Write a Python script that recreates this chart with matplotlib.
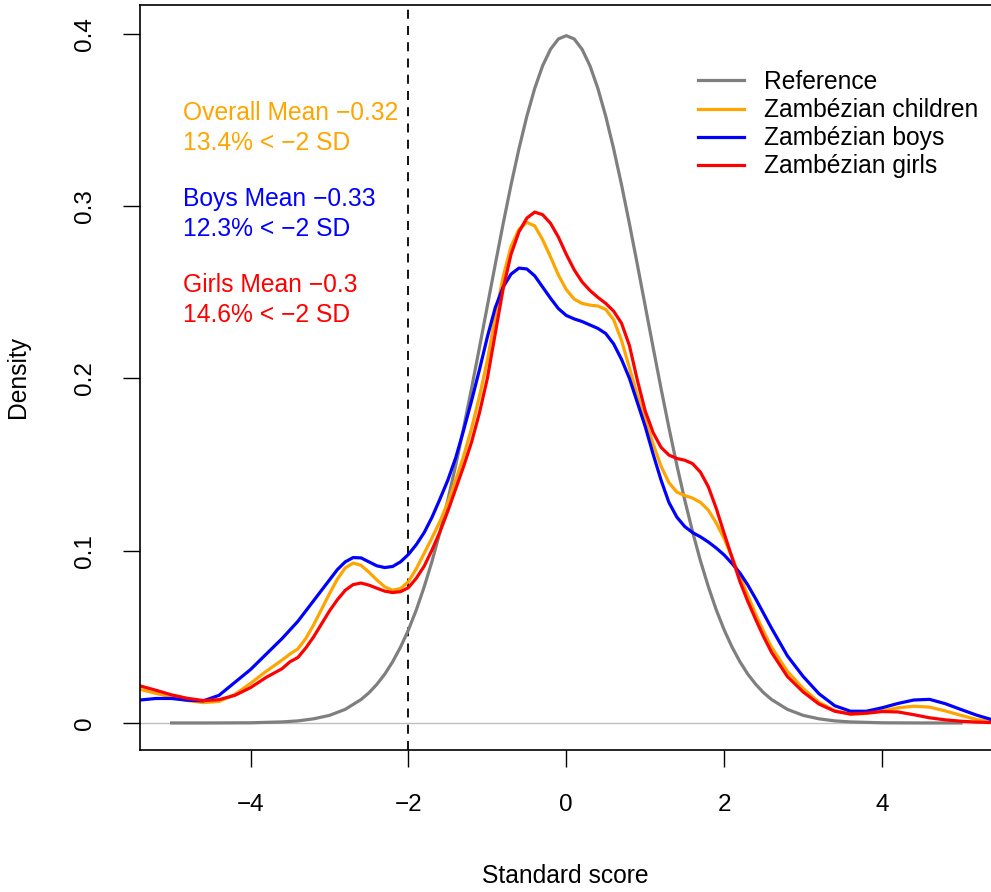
import numpy as np
import matplotlib
matplotlib.use("Agg")
import matplotlib.pyplot as plt

plt.rcParams['font.family'] = ['Liberation Sans', 'DejaVu Sans']

# curva de referencia (normal padrao)
x_ref = [-5.0, -4.5, -4.0, -3.6, -3.4, -3.2, -3.0, -2.8, -2.6, -2.5, -2.4,
         -2.3, -2.2, -2.1, -2.0, -1.9, -1.8, -1.7, -1.6, -1.5, -1.4, -1.3,
         -1.2, -1.1, -1.0, -0.9, -0.8, -0.7, -0.6, -0.5, -0.4, -0.3, -0.2,
         -0.1, 0.0, 0.1, 0.2, 0.3, 0.4, 0.5, 0.6, 0.7, 0.8, 0.9, 1.0, 1.1,
         1.2, 1.3, 1.4, 1.5, 1.6, 1.7, 1.8, 1.9, 2.0, 2.1, 2.2, 2.3, 2.4,
         2.5, 2.6, 2.8, 3.0, 3.2, 3.4, 3.6, 4.0, 4.5, 5.0]
y_ref = [0.0000, 0.0000, 0.0001, 0.0006, 0.0012, 0.0024, 0.0044, 0.0079,
         0.0136, 0.0175, 0.0224, 0.0283, 0.0355, 0.0440, 0.0540, 0.0656,
         0.0790, 0.0940, 0.1109, 0.1295, 0.1497, 0.1714, 0.1942, 0.2179,
         0.2420, 0.2661, 0.2897, 0.3123, 0.3332, 0.3521, 0.3683, 0.3814,
         0.3910, 0.3970, 0.3989, 0.3970, 0.3910, 0.3814, 0.3683, 0.3521,
         0.3332, 0.3123, 0.2897, 0.2661, 0.2420, 0.2179, 0.1942, 0.1714,
         0.1497, 0.1295, 0.1109, 0.0940, 0.0790, 0.0656, 0.0540, 0.0440,
         0.0355, 0.0283, 0.0224, 0.0175, 0.0136, 0.0079, 0.0044, 0.0024,
         0.0012, 0.0006, 0.0001, 0.0000, 0.0000]

# grade das densidades das criancas
x_dens = [-5.4, -5.2, -5.0, -4.8, -4.6, -4.4, -4.2, -4.0, -3.8, -3.6,
          -3.5, -3.4, -3.3, -3.2, -3.1, -3.0, -2.9, -2.8, -2.7, -2.6,
          -2.5, -2.4, -2.3, -2.2, -2.1, -2.0, -1.9, -1.8, -1.7, -1.6,
          -1.5, -1.4, -1.3, -1.2, -1.1, -1.0, -0.9, -0.8, -0.7, -0.6,
          -0.5, -0.4, -0.3, -0.2, -0.1, 0.0, 0.1, 0.2, 0.3, 0.4,
          0.5, 0.6, 0.7, 0.8, 0.9, 1.0, 1.1, 1.2, 1.3, 1.4,
          1.5, 1.6, 1.7, 1.8, 1.9, 2.0, 2.1, 2.2, 2.3, 2.4,
          2.5, 2.6, 2.8, 3.0, 3.2, 3.4, 3.6, 3.8, 4.0, 4.2,
          4.4, 4.6, 4.8, 5.0, 5.2, 5.4]

y_children = [0.0195, 0.0172, 0.0150, 0.0130, 0.0118, 0.0125, 0.0165, 0.0230, 0.0300, 0.0365,
              0.0400, 0.0430, 0.0490, 0.0570, 0.0660, 0.0750, 0.0835, 0.0900, 0.0928, 0.0915,
              0.0875, 0.0830, 0.0790, 0.0770, 0.0780, 0.0820, 0.0895, 0.0985, 0.1075, 0.1170,
              0.1280, 0.1410, 0.1550, 0.1710, 0.1895, 0.2105, 0.2360, 0.2590, 0.2765, 0.2865,
              0.2905, 0.2885, 0.2805, 0.2705, 0.2600, 0.2515, 0.2460, 0.2435, 0.2425, 0.2420,
              0.2400, 0.2340, 0.2220, 0.2060, 0.1900, 0.1760, 0.1620, 0.1490, 0.1395, 0.1340,
              0.1320, 0.1305, 0.1280, 0.1235, 0.1160, 0.1070, 0.0960, 0.0850, 0.0740, 0.0630,
              0.0530, 0.0440, 0.0300, 0.0200, 0.0120, 0.0072, 0.0050, 0.0055, 0.0070, 0.0088,
              0.0097, 0.0092, 0.0070, 0.0044, 0.0020, 0.0007]

y_boys = [0.0133, 0.0142, 0.0142, 0.0132, 0.0128, 0.0160, 0.0235, 0.0310, 0.0400, 0.0490,
          0.0540, 0.0590, 0.0650, 0.0710, 0.0770, 0.0830, 0.0890, 0.0935, 0.0960, 0.0958,
          0.0935, 0.0912, 0.0902, 0.0908, 0.0935, 0.0978, 0.1035, 0.1105, 0.1195, 0.1300,
          0.1410, 0.1540, 0.1700, 0.1870, 0.2050, 0.2240, 0.2410, 0.2530, 0.2605, 0.2640,
          0.2635, 0.2595, 0.2530, 0.2465, 0.2405, 0.2365, 0.2345, 0.2330, 0.2310, 0.2290,
          0.2260, 0.2200, 0.2110, 0.2000, 0.1860, 0.1720, 0.1560, 0.1410, 0.1280, 0.1195,
          0.1140, 0.1105, 0.1080, 0.1050, 0.1015, 0.0975, 0.0925, 0.0870, 0.0800, 0.0720,
          0.0635, 0.0550, 0.0390, 0.0270, 0.0170, 0.0100, 0.0068, 0.0068, 0.0088, 0.0113,
          0.0133, 0.0137, 0.0112, 0.0078, 0.0045, 0.0018]

y_girls = [0.0215, 0.0190, 0.0163, 0.0143, 0.0130, 0.0135, 0.0160, 0.0205, 0.0265, 0.0315,
           0.0355, 0.0380, 0.0435, 0.0500, 0.0575, 0.0650, 0.0715, 0.0770, 0.0803, 0.0812,
           0.0800, 0.0782, 0.0765, 0.0757, 0.0762, 0.0785, 0.0840, 0.0910, 0.1005, 0.1110,
           0.1230, 0.1360, 0.1490, 0.1630, 0.1800, 0.2000, 0.2260, 0.2520, 0.2720, 0.2850,
           0.2930, 0.2965, 0.2950, 0.2900, 0.2820, 0.2720, 0.2630, 0.2560, 0.2510, 0.2470,
           0.2435, 0.2390, 0.2320, 0.2190, 0.1990, 0.1810, 0.1685, 0.1600, 0.1555, 0.1535,
           0.1525, 0.1505, 0.1455, 0.1370, 0.1245, 0.1100, 0.0960, 0.0820, 0.0705, 0.0600,
           0.0500, 0.0410, 0.0270, 0.0180, 0.0110, 0.0068, 0.0052, 0.0057, 0.0066, 0.0064,
           0.0048, 0.0030, 0.0018, 0.0010, 0.0005, 0.0002]

nomes = ["Reference", "Zambézian children", "Zambézian boys", "Zambézian girls"]
cores = ["#7F7F7F", "#FFA500", "#0000FF", "#FF0000"]

# textos com medias
textos = [["Overall Mean \u22120.32", "13.4% < \u22122 SD"],
          ["Boys Mean \u22120.33", "12.3% < \u22122 SD"],
          ["Girls Mean \u22120.3", "14.6% < \u22122 SD"]]
cores_txt = ["#FFA500", "#0000FF", "#FF0000"]
y_txt = [0.350, 0.300, 0.250]

fig = plt.figure(figsize=(9.91, 8.92), dpi=100)
ax = fig.add_axes([140 / 991, 142 / 892, 851 / 991, 745 / 892])

ax.axhline(0, color="#BEBEBE", lw=1.0, zorder=1)
ax.axvline(-2, color="black", lw=1.3, linestyle=(0, (5, 4)), zorder=1)

ax.plot(x_ref, y_ref, color=cores[0], lw=2.3, label=nomes[0])
ax.plot(x_dens, y_children, color=cores[1], lw=2.3, label=nomes[1])
ax.plot(x_dens, y_boys, color=cores[2], lw=2.3, label=nomes[2])
ax.plot(x_dens, y_girls, color=cores[3], lw=2.3, label=nomes[3])

for linhas, c, yy in zip(textos, cores_txt, y_txt):
    ax.text(-4.85, yy, linhas[0], color=c, fontsize=17.7, ha="left", va="baseline")
    ax.text(-4.85, yy - 0.0174, linhas[1], color=c, fontsize=17.7, ha="left", va="baseline")

ax.legend(loc="upper left", bbox_to_anchor=(1.67, 0.379), bbox_transform=ax.transData,
          frameon=False, fontsize=17.7, handlelength=1.85, handletextpad=0.85,
          labelspacing=0.17, borderpad=0, borderaxespad=0)

ax.set_xlim(-5.4, 5.38)
ax.set_ylim(-0.0157, 0.4167)

ax.set_xticks([-4, -2, 0, 2, 4])
ax.set_xticklabels(["\u22124", "\u22122", "0", "2", "4"])
ax.set_yticks([0, 0.1, 0.2, 0.3, 0.4])
ax.set_yticklabels(["0", "0.1", "0.2", "0.3", "0.4"], rotation=90, va="center")
ax.tick_params(axis="both", labelsize=17.5, length=12.5, width=1.0, direction="out")
ax.tick_params(axis="x", pad=19)
ax.tick_params(axis="y", pad=19)

for s in ["left", "bottom", "top"]:
    ax.spines[s].set_linewidth(1.2)
ax.spines["right"].set_visible(False)

fig.text(565 / 991, 1 - 876 / 892, "Standard score", fontsize=17.7, ha="center", va="center")
fig.text(18 / 991, 1 - 377 / 892, "Density", fontsize=17.7, ha="center", va="center",
         rotation=90)

fig.savefig("out.png", dpi=100)
